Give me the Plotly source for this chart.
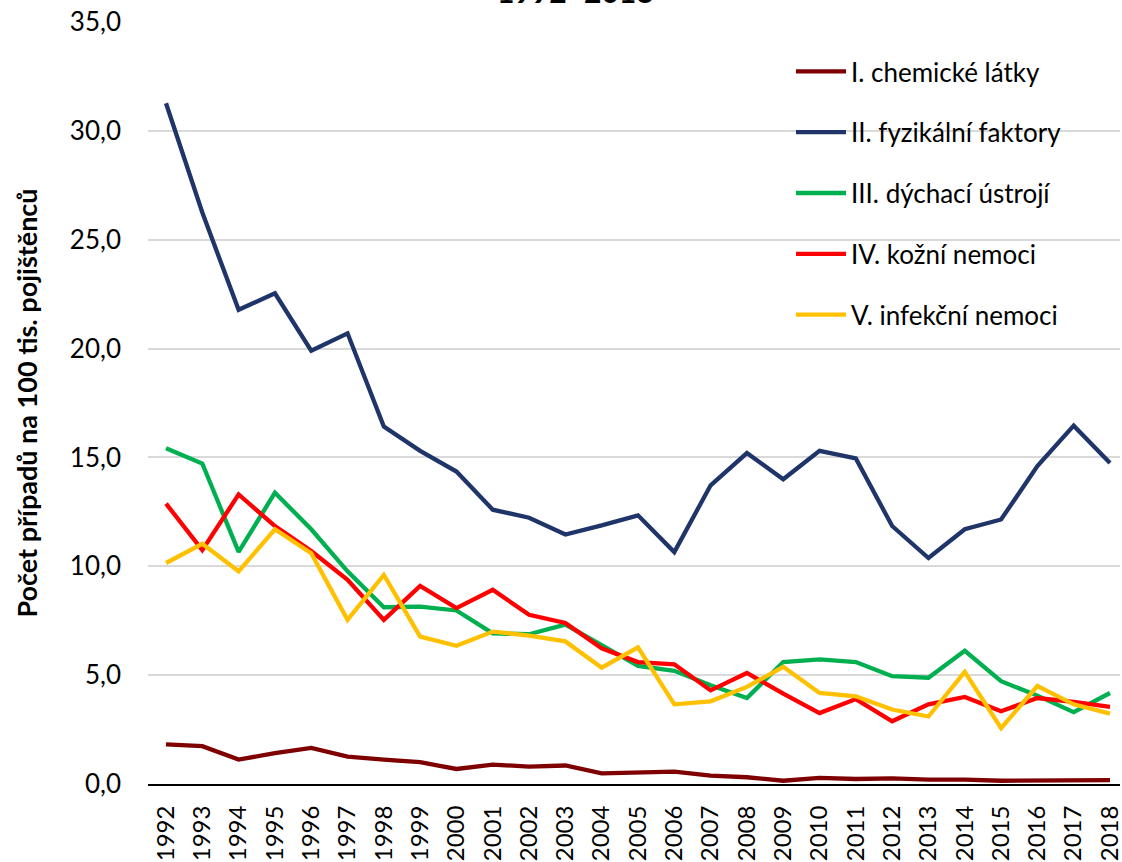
import plotly.graph_objects as go

years = list(range(1992, 2019))

chem = [1.82, 1.74, 1.12, 1.42, 1.66, 1.26, 1.12, 1.00, 0.69, 0.89, 0.80, 0.85,
        0.49, 0.54, 0.57, 0.38, 0.31, 0.15, 0.28, 0.23, 0.26, 0.20, 0.20, 0.15,
        0.15, 0.17, 0.18]
fyz = [31.27, 26.25, 21.78, 22.54, 19.90, 20.70, 16.42, 15.30, 14.35, 12.60, 12.23, 11.46,
       11.88, 12.34, 10.65, 13.72, 15.20, 14.00, 15.30, 14.95, 11.85, 10.38, 11.70, 12.15,
       14.60, 16.46, 14.74]
dych = [15.42, 14.72, 10.66, 13.38, 11.70, 9.77, 8.12, 8.15, 7.97, 6.92, 6.88, 7.32,
        6.38, 5.42, 5.20, 4.54, 3.95, 5.60, 5.72, 5.60, 4.95, 4.88, 6.12, 4.72,
        4.06, 3.30, 4.18]
kozni = [12.88, 10.74, 13.30, 11.85, 10.70, 9.38, 7.54, 9.10, 8.08, 8.92, 7.77, 7.40,
         6.23, 5.60, 5.50, 4.30, 5.10, 4.15, 3.26, 3.90, 2.88, 3.66, 4.00, 3.34,
         3.95, 3.77, 3.54]
infek = [10.15, 11.03, 9.77, 11.70, 10.60, 7.54, 9.60, 6.77, 6.35, 7.00, 6.82, 6.55,
         5.34, 6.28, 3.66, 3.80, 4.46, 5.38, 4.18, 4.03, 3.42, 3.10, 5.15, 2.57,
         4.50, 3.66, 3.23]

series = [
    ("I. chemické látky", chem, "#7F0000"),
    ("II. fyzikální faktory", fyz, "#1F3468"),
    ("III. dýchací ústrojí", dych, "#00B050"),
    ("IV. kožní nemoci", kozni, "#FF0000"),
    ("V. infekční nemoci", infek, "#FFC000"),
]

y_title = "Počet případů na 100 tis. pojištěnců"
chart_title = "1992–2018"

FONT = "Lato"

fig = go.Figure()
for i, (name, vals, col) in enumerate(series):
    fig.add_trace(go.Scatter(
        x=years, y=vals, name=name, mode="lines",
        line=dict(color=col, width=4.3),
        legendgroup=f"g{i}",
    ))

W, H = 1122, 862
L, R, T, B = 148, 2, 22, 78
pw = W - L - R
ph = H - T - B

px_per_year = (1110 - 166) / 26
x0 = 1992 - (166 - L) / px_per_year
x1 = x0 + pw / px_per_year

fig.update_layout(
    width=W, height=H,
    margin=dict(l=L, r=R, t=T, b=B, autoexpand=False),
    paper_bgcolor="white", plot_bgcolor="white",
    separators=",.",
    font=dict(family=FONT, color="#000000"),
    showlegend=True,
    legend=dict(
        x=(791 - L) / pw, y=1 - (48 - T) / ph,
        xanchor="left", yanchor="top",
        font=dict(family=FONT, size=26, color="#000000"),
        tracegroupgap=24,
        bgcolor="rgba(0,0,0,0)",
        itemwidth=50,
    ),
    xaxis=dict(
        range=[x0, x1],
        tickmode="array", tickvals=years, ticktext=[str(y) for y in years],
        tickangle=-90,
        tickfont=dict(family=FONT, size=24, color="#000000"),
        ticklabelstandoff=10,
        ticklabeloverflow="allow",
        showgrid=False,
        showline=True, linecolor="#000000", linewidth=2,
        ticks="", zeroline=False,
    ),
    yaxis=dict(
        range=[0, 35], dtick=5, tick0=0,
        tickformat=".1f",
        tickfont=dict(family=FONT, size=26, color="#000000"),
        showgrid=True, gridcolor="#D9D9D9", gridwidth=1.5,
        zeroline=False, showline=False, ticks="",
        ticklabelstandoff=26,
        title=dict(text=y_title, font=dict(family=FONT, size=27, color="#000000", weight="bold"),
                   standoff=24),
    ),
)

fig.add_annotation(
    text="<b>" + chart_title + "</b>",
    xref="paper", yref="paper",
    x=(575 - L) / pw, y=1 + 11.5 / ph,
    xanchor="center", yanchor="bottom",
    showarrow=False,
    font=dict(family=FONT, size=30, color="#000000"),
)

fig.write_html("out.html", config={"displayModeBar": False},
               post_script="document.body.style.margin='0';document.body.style.overflow='hidden';")
